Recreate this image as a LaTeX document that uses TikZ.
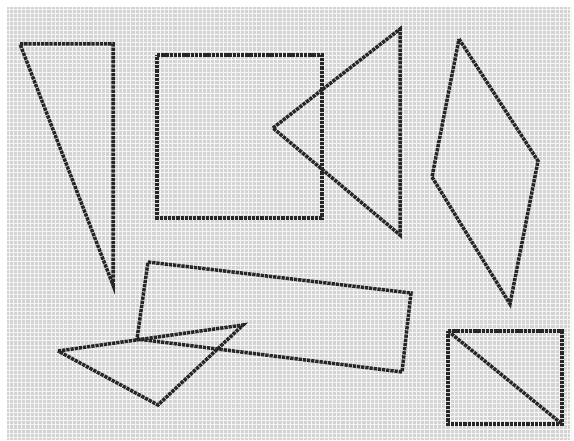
\documentclass[tikz,border=0pt]{standalone}
\begin{document}
\begin{tikzpicture}[x=1pt,y=-1pt,
  pix/.style={draw=black!85,line width=3.5pt,dash pattern=on 3.3pt off 0.9pt,line join=miter},
  gridline/.style={draw=white!96!black,line width=1.1pt}]
\useasboundingbox (0,0) rectangle (574,441);
\fill[white] (0,0) rectangle (574,441);
\fill[black!17] (7,7) rectangle (570,440);
\foreach \i in {0,...,134} {\draw[gridline] ({7+4.2*\i+2.1},7) -- ({7+4.2*\i+2.1},440);}
\foreach \j in {0,...,103} {\draw[gridline] (7,{7+4.2*\j+2.1}) -- (570,{7+4.2*\j+2.1});}
% vertices
\coordinate (t1a) at (20,44); \coordinate (t1b) at (113,44); \coordinate (t1c) at (113,285);
\coordinate (sqa) at (157,55); \coordinate (sqb) at (322,55); \coordinate (sqc) at (322,218); \coordinate (sqd) at (157,218);
\coordinate (t2a) at (273,128); \coordinate (t2b) at (400,29); \coordinate (t2c) at (400,235);
\coordinate (dia) at (459,39); \coordinate (dib) at (538,161); \coordinate (dic) at (510,304); \coordinate (did) at (432,177);
\coordinate (qa) at (148,262); \coordinate (qb) at (411,293); \coordinate (qc) at (402,372); \coordinate (qd) at (137,339);
\coordinate (t3a) at (58,351); \coordinate (t3b) at (243,325); \coordinate (t3c) at (158,405);
\coordinate (ra) at (448,331); \coordinate (rb) at (562,331); \coordinate (rc) at (562,424); \coordinate (rd) at (448,424);
% shapes
\draw[pix] (t1a) -- (t1b) -- (t1c) -- cycle;
\draw[pix] (sqa) -- (sqb) -- (sqc) -- (sqd) -- cycle;
\draw[pix] (t2a) -- (t2b) -- (t2c) -- cycle;
\draw[pix] (dia) -- (dib) -- (dic) -- (did) -- cycle;
\draw[pix] (qa) -- (qb) -- (qc) -- (qd) -- cycle;
\draw[pix] (t3a) -- (t3b) -- (t3c) -- cycle;
\draw[pix] (ra) -- (rb) -- (rc) -- (rd) -- cycle;
\draw[pix] (ra) -- (rc);
\end{tikzpicture}
\end{document}
